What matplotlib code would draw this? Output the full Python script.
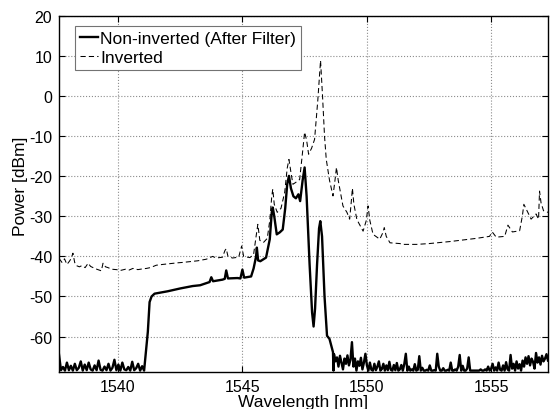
import numpy as np
import matplotlib
matplotlib.use("Agg")
import matplotlib.pyplot as plt

plt.rcParams['font.family'] = ['Liberation Sans', 'DejaVu Sans']
plt.rcParams['axes.unicode_minus'] = False

# ---------------- data ----------------
# Non-inverted (after filter): noise floor left of the band
noise_left_start, noise_left_end = 1537.63, 1541.05
noise_left_vals = [-64.5, -68.4, -67.6, -68.5, -66.5, -68.4, -67.3, -68.5, -66.8, -68.4,
                   -67.8, -66.2, -68.5, -67, -68.4, -66.5, -68.2, -68.5, -67.2, -68.4,
                   -66, -68.3, -68.5, -67.5, -68.4, -66.8, -68.5, -67.8, -65.8, -68.4,
                   -67, -68.5, -66.5, -68.2, -68.4, -67.6, -68.5, -66.3, -68.4, -67.9,
                   -66.8, -68.5, -67.4, -68.5]

# Non-inverted: main band
band_wl = [1541.05, 1541.12, 1541.2, 1541.27, 1541.35, 1541.47, 1542.0, 1542.5,
           1543.0, 1543.3, 1543.68, 1543.75, 1543.82, 1544.2, 1544.29, 1544.35,
           1544.42, 1544.8, 1544.92, 1545.0, 1545.07, 1545.35, 1545.45, 1545.55,
           1545.58, 1545.63, 1545.72, 1545.95, 1546.1, 1546.18, 1546.22, 1546.28,
           1546.38, 1546.5, 1546.62, 1546.72, 1546.8, 1546.87, 1546.95, 1547.05,
           1547.15, 1547.25, 1547.32, 1547.42, 1547.5, 1547.58, 1547.7, 1547.8,
           1547.86, 1547.92, 1548.0, 1548.08, 1548.13, 1548.2, 1548.3, 1548.4,
           1548.5, 1548.6, 1548.64, 1548.66]
band_pw = [-68.5, -64, -58.8, -51.4, -50, -49.3, -48.7, -48.0,
           -47.4, -47.2, -46.4, -45.2, -46.2, -45.8, -45.6, -43.5,
           -45.5, -45.4, -45.5, -43.3, -45.3, -45.0, -43, -40,
           -37.8, -41, -41.2, -40.3, -35.7, -29, -27.8, -30,
           -34.5, -34, -33.3, -28, -22, -19.9, -23, -25,
           -25.5, -24.5, -26.2, -21, -17.8, -25, -42, -54,
           -57.5, -53, -42, -33, -31.2, -35, -50, -59.8,
           -60.6, -63, -63.9, -68.5]

# Non-inverted: noise floor right of the band
noise_right_start, noise_right_end = 1548.68, 1557.28
noise_right_vals = [
    -64.4, -66.2, -65.2, -67.5, -64.8, -66.5, -68.2, -65.5, -66.8, -64.7, -67.2,
    -65.8, -61.4, -67.5, -65.5, -68.5, -66.2, -67.3, -65.3, -68.2, -66.5, -64.3,
    -67.2, -68.5, -66.5, -68.3, -68.5, -66.8, -68.4, -67.5, -66.2, -68.5, -68.1,
    -66.8, -68.5, -67.2, -68.4, -66.3, -68.3, -68.5, -67.1, -68.4, -66.6, -68.5,
    -68.2, -67.1, -68.5,
    -66.8, -64.3, -68.5, -67.5, -68.5, -68.2, -68.5, -66.9, -68.5, -68.3, -64.9,
    -68.5, -67.8, -68.5, -68.5, -68.3, -68.5, -67.2, -68.5, -68.5, -68.4, -68.5,
    -64.3, -67.5, -68.5, -68.5, -67.9, -68.5, -68.5, -68.3, -68.5, -66.5, -68.5,
    -68.5, -68.2, -68.5, -67.5, -64.6, -68.5, -67.3, -68.5, -68.5, -68.0, -65.2,
    -68.5,
    -68.5, -68.5, -68.5, -68.5, -68.5, -68.5, -68.2, -68.5, -68.5,
    -68.2, -68.5, -67.5, -68.5, -68.0, -66.8, -68.5, -67.7, -68.5, -66.5, -68.3,
    -68.5, -67.2, -68.5, -66.4, -68.2, -68.5, -64.6, -68.0, -66.8, -68.5, -66.2,
    -68.0, -66.9, -68.5,
    -66.0, -67.5, -65.2, -66.8, -64.9, -67.2, -65.5, -66.3, -68.0, -64.1, -66.5,
    -65.2, -67.0, -64.8, -66.2, -65.5, -64.4, -66.0]

# Inverted spectrum
inv_wl = [1537.63, 1537.75, 1537.85, 1537.95, 1538.05, 1538.12, 1538.19, 1538.26,
          1538.33, 1538.45, 1538.55, 1538.68, 1538.8, 1538.9, 1539.0, 1539.15,
          1539.33, 1539.4, 1539.5, 1539.6, 1539.75, 1539.94, 1540.1, 1540.3,
          1540.45, 1540.6, 1540.8, 1541.0, 1541.14, 1541.3, 1541.54, 1541.8,
          1542.1, 1542.4, 1542.6, 1542.9, 1543.2, 1543.55, 1543.7, 1543.8,
          1543.95, 1544.2, 1544.3, 1544.35, 1544.42, 1544.6, 1544.85, 1544.97,
          1545.05, 1545.3, 1545.45, 1545.55, 1545.62, 1545.7, 1545.85, 1546.0,
          1546.1, 1546.18, 1546.22, 1546.28, 1546.4, 1546.55, 1546.7, 1546.8,
          1546.87, 1546.95, 1547.03, 1547.15, 1547.3, 1547.4, 1547.5, 1547.58,
          1547.66, 1547.78, 1547.9, 1548.03, 1548.14, 1548.22, 1548.3, 1548.37,
          1548.5, 1548.64, 1548.72, 1548.78, 1548.85, 1549.04, 1549.2, 1549.31,
          1549.38, 1549.42, 1549.48, 1549.6, 1549.85, 1549.98, 1550.05, 1550.12,
          1550.25, 1550.52, 1550.65, 1550.7, 1550.78, 1550.93, 1551.33, 1551.45,
          1552.0, 1552.5, 1553.33, 1554.0, 1554.4, 1554.93, 1555.04, 1555.2,
          1555.54, 1555.67, 1555.85, 1556.14, 1556.25, 1556.31, 1556.5, 1556.6,
          1556.8, 1556.9, 1556.94, 1557.0, 1557.1, 1557.28]
inv_pw = [-40.5, -41.5, -40.6, -42, -41.2, -40.5, -39.2, -41.5,
          -42.3, -42.6, -42.3, -42.8, -41.7, -42.5, -42.8, -43.2,
          -43.6, -41.7, -42.6, -42.8, -43.2, -43.3, -43.5, -43.2,
          -43.4, -43.0, -43.3, -43.1, -43.0, -42.8, -42.2, -42.0,
          -41.8, -41.6, -41.5, -41.3, -41.1, -40.7, -40.3, -40.0,
          -40.4, -40.2, -38.5, -38.1, -40, -40.4, -40.2, -37.4,
          -40, -40.3, -39.5, -35, -32, -36, -36.5, -35.5,
          -31, -25, -23.2, -27, -29, -28, -24, -18,
          -15.8, -19, -22, -21.5, -20.8, -15, -9, -11,
          -14.5, -13, -10.8, -1, 8.9, 0, -10, -15.8,
          -21, -24.9, -21, -17.8, -21, -27.4, -29, -30.7,
          -26, -23, -27, -30.8, -33.7, -31, -27.4, -31,
          -34.5, -35.7, -34, -32.8, -35, -36.6, -36.8, -37,
          -37.0, -36.8, -36.3, -35.8, -35.5, -35, -33.9, -35.2,
          -35, -32.2, -33.9, -33.6, -29.9, -27, -29.4, -30.7,
          -29.4, -30.7, -23.7, -26.6, -28.6, -29]

x_ticks = [1540, 1545, 1550, 1555]
y_ticks = [-60, -50, -40, -30, -20, -10, 0, 10, 20]

# ---------------- assemble the non-inverted trace ----------------
nl_wl = np.linspace(noise_left_start, noise_left_end, len(noise_left_vals))
nr_wl = np.linspace(noise_right_start, noise_right_end, len(noise_right_vals))
noninv_wl = np.concatenate([nl_wl, band_wl, nr_wl])
noninv_pw = np.concatenate([noise_left_vals, band_pw, noise_right_vals])

# ---------------- plotting ----------------
fig = plt.figure(figsize=(5.5, 4.1), dpi=100)
ax = fig.add_axes([59/550, 1-373/410, (548-59)/550, (373-17)/410])

ax.plot(inv_wl, inv_pw, color='black', lw=0.75, linestyle=(0, (5, 3)),
        label='Inverted', zorder=2)
ax.plot(noninv_wl, noninv_pw, color='black', lw=1.7,
        label='Non-inverted (After Filter)', zorder=3)

ax.set_xlim(1537.63, 1557.28)
ax.set_ylim(-68.85, 20)
ax.set_xticks(x_ticks)
ax.set_yticks(y_ticks)
ax.grid(True, color='0.55', linestyle=':', linewidth=0.8)
ax.tick_params(direction='in', length=4, width=0.8, top=True, right=True,
               labelsize=11.5, pad=5)
for s in ax.spines.values():
    s.set_linewidth(1.0)
    s.set_color('black')

ax.set_xlabel('Wavelength [nm]', fontsize=12.5, labelpad=0)
ax.set_ylabel('Power [dBm]', fontsize=12.5)
ax.yaxis.set_label_coords(-0.063, 0.525)

handles, labels = ax.get_legend_handles_labels()
leg = ax.legend(handles[::-1], labels[::-1], loc='upper left',
                bbox_to_anchor=(16/489, 1-10/356), borderaxespad=0,
                fontsize=12.5, handlelength=1.0, handletextpad=0.15,
                labelspacing=0.2, borderpad=0.3, fancybox=False,
                framealpha=1, edgecolor='0.45')
leg.get_frame().set_linewidth(0.8)

fig.savefig('out.png', dpi=100, facecolor='white')
